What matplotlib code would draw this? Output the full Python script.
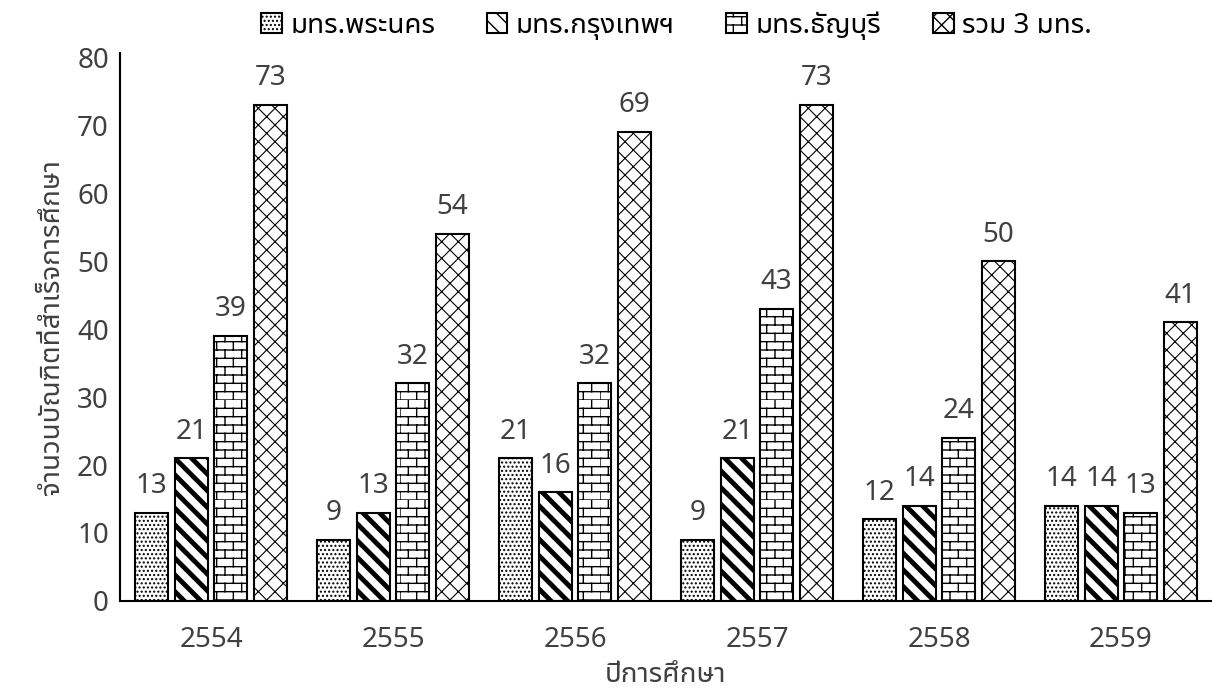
import warnings

import matplotlib
matplotlib.use("Agg")
import matplotlib.pyplot as plt
import numpy as np
from matplotlib import hatch as mhatch
from matplotlib.path import Path

warnings.filterwarnings("ignore")

plt.rcParams["font.family"] = ["Noto Sans Thai UI", "Noto Sans", "DejaVu Sans"]

years = ["2554", "2555", "2556", "2557", "2558", "2559"]
series_names = ["มทร.พระนคร", "มทร.กรุงเทพฯ", "มทร.ธัญบุรี", "รวม 3 มทร."]
phra_nakhon = [13, 9, 21, 9, 12, 14]
krungthep = [21, 13, 16, 21, 14, 14]
thanyaburi = [39, 32, 32, 43, 24, 13]
total_3 = [73, 54, 69, 73, 50, 41]


class BrickHatch(mhatch.HatchPatternBase):
    """Brick wall pattern, triggered by the 'b' character."""

    def __init__(self, hatch, density):
        self.num_rows = int(hatch.count("b") * density)
        if self.num_rows % 2:
            self.num_rows += 1
        self.num_cols = max(1, self.num_rows // 2)
        self.num_vertices = (self.num_rows * 2 + self.num_rows * self.num_cols * 2)

    def set_vertices_and_codes(self, vertices, codes):
        n = self.num_rows
        m = self.num_cols
        i = 0
        for r in range(n):
            y0 = r / n
            y1 = (r + 1) / n
            vertices[i] = (0.0, y0)
            vertices[i + 1] = (1.0, y0)
            codes[i] = Path.MOVETO
            codes[i + 1] = Path.LINETO
            i += 2
            for k in range(m):
                x = (k + 0.5 * (r % 2)) / m
                vertices[i] = (x, y0)
                vertices[i + 1] = (x, y1)
                codes[i] = Path.MOVETO
                codes[i + 1] = Path.LINETO
                i += 2


mhatch._hatch_types.append(BrickHatch)

values = [phra_nakhon, krungthep, thanyaburi, total_3]
hatches = ["....", "\\\\", "bb", "xx"]
hatch_widths = [1.0, 3.5, 1.0, 0.8]

fig = plt.figure(figsize=(12.12, 6.93), dpi=100)
ax = fig.add_axes([0.099, 0.1328, 0.901, 0.7907])

x = np.arange(len(years))
step = 0.217
width = 0.181
label_color = "#404040"
fs = 20

handles = []
for i, (vals, name) in enumerate(zip(values, series_names)):
    with plt.rc_context({"hatch.linewidth": hatch_widths[i], "hatch.color": "black"}):
        bars = ax.bar(x + (i - 1.5) * step, vals, width=width, color="white",
                      edgecolor="black", linewidth=1.5, hatch=hatches[i], label=name)
    handles.append(bars)
    for rect, v in zip(bars, vals):
        ax.annotate(str(v), (rect.get_x() + rect.get_width() / 2, rect.get_height()),
                    xytext=(0, 9), textcoords="offset points", ha="center", va="bottom",
                    fontsize=fs, color=label_color)

ax.set_xlim(-0.5, 5.5)
ax.set_ylim(0, 80.6)
ax.set_yticks(np.arange(0, 81, 10))
ax.set_xticks(x)
ax.set_xticklabels(years)
ax.tick_params(axis="both", length=0, labelsize=fs, labelcolor=label_color, pad=8)
ax.tick_params(axis="x", pad=18)
for side in ["top", "right"]:
    ax.spines[side].set_visible(False)
for side in ["left", "bottom"]:
    ax.spines[side].set_linewidth(1.5)
    ax.spines[side].set_color("black")

ax.set_xlabel("ปีการศึกษา", fontsize=fs, color=label_color, labelpad=5)
ax.set_ylabel("จำนวนบัณฑิตที่สำเร็จการศึกษา", fontsize=fs, color=label_color, labelpad=8)

fig.legend(handles=handles, labels=series_names, loc="upper center",
           bbox_to_anchor=(0.558, 1.02), ncol=4, frameon=False, fontsize=fs,
           handlelength=0.75, handleheight=0.75, handletextpad=0.3, columnspacing=1.85)

fig.savefig("out.png", dpi=100)
